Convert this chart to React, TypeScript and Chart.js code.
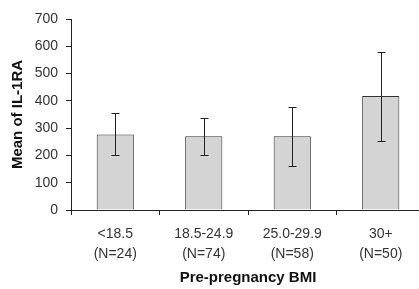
import React, { useEffect, useRef } from "react";
import { Chart, registerables } from "chart.js";

Chart.register(...registerables);

const categories: string[][] = [
  ["<18.5", "(N=24)"],
  ["18.5-24.9", "(N=74)"],
  ["25.0-29.9", "(N=58)"],
  ["30+", "(N=50)"],
];
const means: number[] = [277, 270, 270, 418];
const errLow: number[] = [200, 200, 160, 254];
const errHigh: number[] = [357, 337, 379, 578];
const yTicks: number[] = [0, 100, 200, 300, 400, 500, 600, 700];

const FONT = "'Liberation Sans', Arial, sans-serif";
const INK = "#333";

const errorBarPlugin = {
  id: "errorBars",
  afterDatasetsDraw(chart: any) {
    const ctx = chart.ctx;
    const yScale = chart.scales.y;
    const meta = chart.getDatasetMeta(0);
    ctx.save();
    ctx.strokeStyle = "#222";
    ctx.lineWidth = 1;
    meta.data.forEach((bar: any, i: number) => {
      const x = Math.round(bar.x) + 0.5;
      const yLo = Math.round(yScale.getPixelForValue(errLow[i])) + 0.5;
      const yHi = Math.round(yScale.getPixelForValue(errHigh[i])) + 0.5;
      const cap = 4;
      ctx.beginPath();
      ctx.moveTo(x, yLo);
      ctx.lineTo(x, yHi);
      ctx.moveTo(x - cap, yHi);
      ctx.lineTo(x + cap, yHi);
      ctx.moveTo(x - cap, yLo);
      ctx.lineTo(x + cap, yLo);
      ctx.stroke();
    });
    ctx.restore();
  },
};

export default function App() {
  const ref = useRef<HTMLCanvasElement | null>(null);
  useEffect(() => {
    if (!ref.current) return;
    const chart = new Chart(ref.current, {
      type: "bar",
      data: {
        labels: categories,
        datasets: [
          {
            data: means,
            backgroundColor: "#d4d4d4",
            borderColor: "#333",
            borderWidth: 1,
            barPercentage: 0.42,
            categoryPercentage: 1,
          },
        ],
      },
      options: {
        responsive: false,
        animation: false,
        layout: { padding: { top: 19, left: 0, right: 0, bottom: 0 } },
        plugins: { legend: { display: false }, tooltip: { enabled: false } },
        scales: {
          x: {
            offset: true,
            afterFit: (s: any) => {
              s.height = 79;
            },
            grid: {
              display: true,
              drawOnChartArea: false,
              drawTicks: true,
              tickLength: 5,
              color: "#222",
            },
            border: { display: true, color: "#222" },
            ticks: {
              color: INK,
              font: { family: FONT, size: 14, lineHeight: 1.43 },
              padding: 9,
              maxRotation: 0,
              autoSkip: false,
            },
            title: {
              display: true,
              text: "Pre-pregnancy BMI",
              color: "#111",
              font: { family: FONT, size: 15, weight: "bold", lineHeight: 1.2 },
              padding: { top: 0, bottom: 2 },
            },
          },
          y: {
            min: 0,
            max: 700,
            afterFit: (s: any) => {
              s.width = 71;
            },
            afterBuildTicks: (s: any) => {
              s.ticks = yTicks.map((v) => ({ value: v }));
            },
            grid: {
              display: true,
              drawOnChartArea: false,
              drawTicks: true,
              tickLength: 5,
              color: "#222",
            },
            border: { display: true, color: "#222" },
            ticks: {
              color: INK,
              font: { family: FONT, size: 14 },
              padding: 8,
            },
            title: {
              display: true,
              text: "Mean of IL-1RA",
              color: "#111",
              font: { family: FONT, size: 15, weight: "bold", lineHeight: 1.2 },
              padding: { top: 9, bottom: 0 },
            },
          },
        },
      },
      plugins: [errorBarPlugin],
    });
    return () => chart.destroy();
  }, []);
  return (
    <div
      style={{
        position: "fixed",
        left: 0,
        top: 0,
        width: 419,
        height: 289,
        overflow: "hidden",
        background: "#fff",
      }}
    >
      <canvas
        ref={ref}
        width={425}
        height={289}
        style={{ display: "block", width: 425, height: 289 }}
      />
    </div>
  );
}
